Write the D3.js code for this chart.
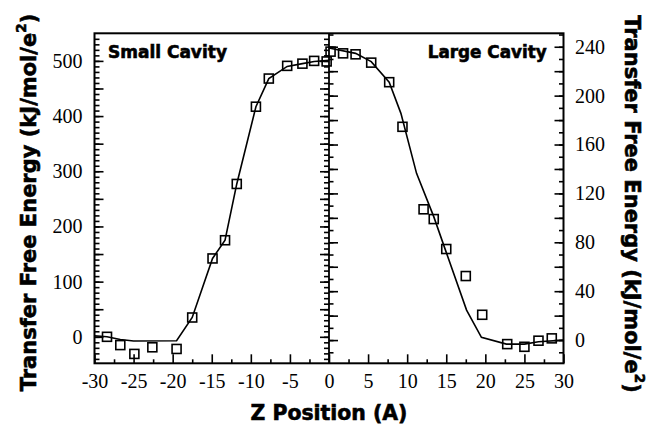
<!DOCTYPE html>
<meta charset="utf-8">
<style>

body {
  margin: 0;
  background: #fff;
}

.tick text {
  font-family: "Liberation Serif", "Times New Roman", serif;
  font-size: 20px;
  fill: #000;
}

.tick line {
  stroke: #000;
  stroke-width: 1.6;
}

.heavy {
  font-family: "DejaVu Sans", sans-serif;
  font-weight: bold;
  fill: #000;
  stroke: #000;
  stroke-width: 0.6;
}

.fit-line {
  fill: none;
  stroke: #000;
  stroke-width: 1.6;
}

.point {
  fill: none;
  stroke: #000;
  stroke-width: 1.6;
}

</style>
<body>
<script src="https://cdn.jsdelivr.net/npm/d3@7"></script>
<script>

// small cavity (left panel, left axis)
var small_z = [-28.4, -26.7, -24.9, -22.6, -19.5, -17.5, -14.9, -13.3, -11.8, -9.35, -7.7, -5.35, -3.4, -1.9, -0.3];
var small_e = [0, -15, -31, -19, -22, 35, 142, 175, 277, 417, 468, 491, 495, 500, 499];
var small_line_z = [-30, -28.4, -26.7, -25, -19.5, -17.5, -14.9, -13.3, -11.8, -9.35, -7.7, -5.35, -3.4, -1.9, 0];
var small_line_e = [2, 0, -5, -7.5, -7, 35, 142, 175, 277, 417, 468, 490, 495, 499, 501];

// large cavity (right panel, right axis)
var large_z = [0.2, 1.8, 3.4, 5.4, 7.7, 9.4, 12.1, 13.4, 15.0, 17.5, 19.6, 22.8, 25.0, 26.8, 28.5];
var large_e = [236, 234.6, 233.8, 227, 211, 174.5, 107, 99, 74.5, 52.4, 20.7, -3.3, -5.5, -0.5, 1.4];
var large_line_z = [0, 3.4, 5.4, 7.7, 9.2, 11.2, 13.4, 14.9, 17.6, 19.5, 22.7, 25, 26.8, 30];
var large_line_e = [239, 234.6, 227.8, 211, 185.5, 136.4, 101, 73.6, 24.5, 2.2, -3.3, -3.3, -1.4, 0];

var x_ticks = [-30, -25, -20, -15, -10, -5, 0, 5, 10, 15, 20, 25, 30];
var left_ticks = [0, 100, 200, 300, 400, 500];
var right_ticks = [0, 40, 80, 120, 160, 200, 240];

var width = 648,
    height = 424;

var plot_l = 94.5, plot_r = 563.5, plot_t = 33.3, plot_b = 363.3;

var x = d3.scaleLinear().domain([-30, 30]).range([plot_l, plot_r]);
var yL = d3.scaleLinear().domain([-48, 550]).range([plot_b, plot_t]);
var yR = d3.scaleLinear().domain([-19, 251]).range([plot_b, plot_t]);
var mid = x(0);

var svg = d3.select("body").append("svg")
    .attr("width", width)
    .attr("height", height);

function range(a, b, step) {
  return d3.range(a, b + step / 2, step);
}

function label(d) { return String(d); }

function addAxis(axis, tx, ty) {
  var g = svg.append("g")
      .attr("transform", "translate(" + tx + "," + ty + ")")
      .call(axis);
  g.select(".domain").remove();
  return g;
}

// x axis: long every 5 with labels, short every 2.5
addAxis(d3.axisBottom(x).tickValues(range(-27.5, 27.5, 5)).tickSize(-4).tickFormat(""), 0, plot_b);
addAxis(d3.axisBottom(x).tickValues(x_ticks).tickSize(-9).tickPadding(11).tickFormat(label), 0, plot_b);

// left axis
addAxis(d3.axisLeft(yL).tickValues(range(-40, 540, 10)).tickSize(-5).tickFormat(""), plot_l, 0);
addAxis(d3.axisLeft(yL).tickValues(range(0, 500, 50)).tickSize(-9)
    .tickFormat(function(d) { return left_ticks.indexOf(d) >= 0 ? label(d) : ""; })
    .tickPadding(12), plot_l, 0);

// center line: left-axis ticks to the left, right-axis ticks to the right
addAxis(d3.axisRight(yL).tickValues(range(-40, 540, 10)).tickSize(-5).tickFormat(""), mid, 0);
addAxis(d3.axisRight(yL).tickValues(range(0, 500, 50)).tickSize(-9).tickFormat(""), mid, 0);
addAxis(d3.axisLeft(yR).tickValues(range(-10, 250, 10)).tickSize(-4.5).tickFormat(""), mid, 0);
addAxis(d3.axisLeft(yR).tickValues(range(0, 240, 20)).tickSize(-9).tickFormat(""), mid, 0);

// right axis
addAxis(d3.axisRight(yR).tickValues(range(-10, 250, 10)).tickSize(-4.5).tickFormat(""), plot_r, 0);
addAxis(d3.axisRight(yR).tickValues(range(0, 240, 20)).tickSize(-9)
    .tickFormat(function(d) { return right_ticks.indexOf(d) >= 0 ? label(d) : ""; })
    .tickPadding(11.5), plot_r, 0);

// frame and divider
svg.append("rect")
    .attr("x", plot_l).attr("y", plot_t)
    .attr("width", plot_r - plot_l).attr("height", plot_b - plot_t)
    .attr("fill", "none").attr("stroke", "#000").attr("stroke-width", 2);
svg.append("line")
    .attr("x1", mid).attr("x2", mid).attr("y1", plot_t).attr("y2", plot_b)
    .attr("stroke", "#000").attr("stroke-width", 1.8);

// curves
function drawSeries(zs, es, lz, le, y) {
  var line = d3.line()
      .x(function(d) { return x(d[0]); })
      .y(function(d) { return y(d[1]); });
  svg.append("path")
      .attr("class", "fit-line")
      .attr("d", line(d3.zip(lz, le)));
  svg.selectAll(null)
      .data(d3.zip(zs, es))
    .enter().append("rect")
      .attr("class", "point")
      .attr("x", function(d) { return x(d[0]) - 4.5; })
      .attr("y", function(d) { return y(d[1]) - 4.5; })
      .attr("width", 9)
      .attr("height", 9);
}

drawSeries(small_z, small_e, small_line_z, small_line_e, yL);
drawSeries(large_z, large_e, large_line_z, large_line_e, yR);

// scale a text so it spans a given width
function fit(t, w) {
  var size = parseFloat(t.attr("font-size"));
  var len = t.node().getComputedTextLength();
  t.attr("font-size", size * w / len);
  return t;
}

fit(svg.append("text").attr("class", "heavy").attr("font-size", 16)
    .attr("x", 108).attr("y", 58.3).text("Small Cavity"), 119);
fit(svg.append("text").attr("class", "heavy").attr("font-size", 16)
    .attr("x", 546.7).attr("y", 58.3).attr("text-anchor", "end").text("Large Cavity"), 119);

fit(svg.append("text").attr("class", "heavy").attr("font-size", 20)
    .attr("x", 329).attr("y", 420).attr("text-anchor", "middle").text("Z Position (A)"), 157);

function yTitle(tx, ty, rot) {
  var t = svg.append("text")
      .attr("class", "heavy")
      .attr("font-size", 20)
      .attr("text-anchor", "middle")
      .attr("transform", "translate(" + tx + "," + ty + ") rotate(" + rot + ")");
  t.append("tspan").text("Transfer Free Energy (kJ/mol/e");
  t.append("tspan").attr("font-size", "0.65em").attr("dy", "-0.75em").text("2");
  t.append("tspan").attr("dy", "0.49em").text(")");
  return fit(t, 378);
}

yTitle(36, 202.5, -90);
yTitle(625, 204, 90);

</script>
</body>
